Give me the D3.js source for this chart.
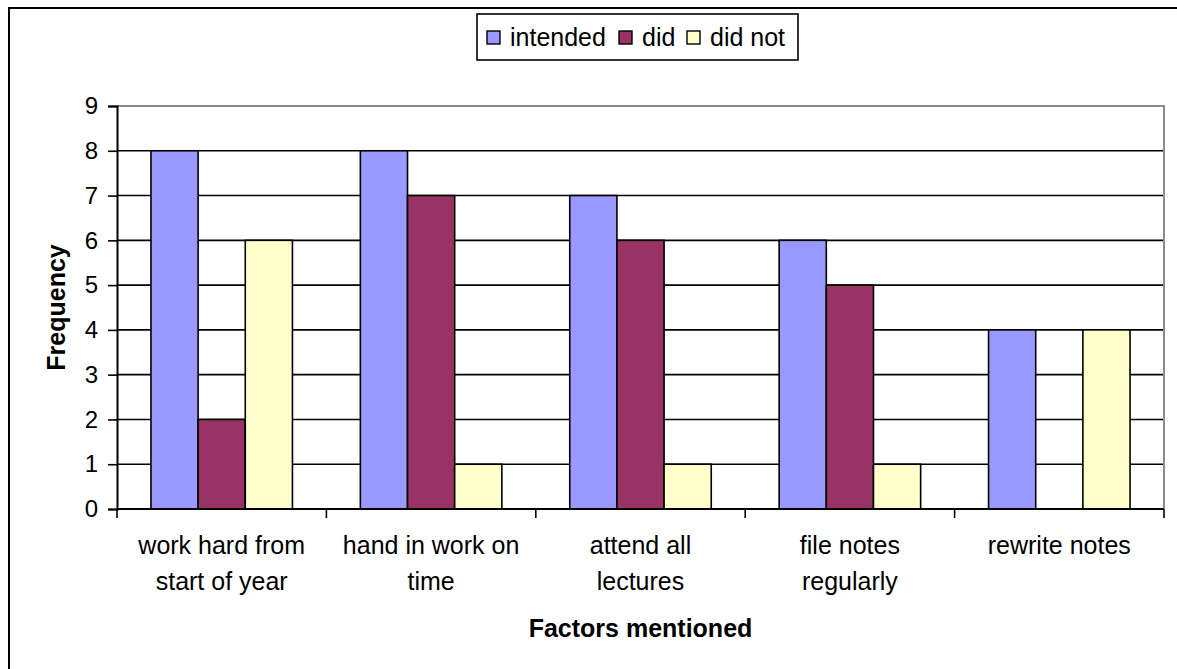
<!DOCTYPE html>
<html>
<head>
<meta charset="utf-8">
<script src="https://cdn.jsdelivr.net/npm/d3@7"></script>
<style>
  html, body { margin: 0; padding: 0; background: #fff; }
  svg { display: block; font-family: Arial, "Liberation Sans", sans-serif; }
</style>
</head>
<body>
<svg id="chart" width="1177" height="669"></svg>
<script>
// Factors students mentioned, with how many intended / did / did not follow through
const categories = [
  ["work hard from", "start of year"],
  ["hand in work on", "time"],
  ["attend all", "lectures"],
  ["file notes", "regularly"],
  ["rewrite notes"]
];
const seriesNames = ["intended", "did", "did not"];
const intended = [8, 8, 7, 6, 4];
const did      = [2, 7, 6, 5, 0];
const didNot   = [6, 1, 1, 1, 4];
const yTicks   = [0, 1, 2, 3, 4, 5, 6, 7, 8, 9];
const colors   = ["#9999FF", "#993366", "#FFFFCC"];

const seriesValues = [intended, did, didNot];
const catKeys = categories.map(c => c.join(" "));

const svg = d3.select("#chart");
const plot = { left: 117, right: 1164, top: 106, bottom: 509 };

// Outer chart frame (only top and left edges fall inside the view)
svg.append("rect")
  .attr("x", 9).attr("y", 8)
  .attr("width", 1200).attr("height", 700)
  .attr("fill", "none").attr("stroke", "#000").attr("stroke-width", 2);

const x0 = d3.scaleBand().domain(catKeys).range([plot.left, plot.right])
  .paddingInner(0).paddingOuter(0);
const x1 = d3.scaleBand().domain(seriesNames).range([0, x0.bandwidth()])
  .paddingInner(0).paddingOuter(0.72);
const y = d3.scaleLinear().domain([0, 9]).range([plot.bottom, plot.top]);

// Horizontal gridlines
svg.append("g").selectAll("line")
  .data(yTicks.filter(t => t > 0 && t < 9))
  .join("line")
  .attr("x1", plot.left).attr("x2", plot.right)
  .attr("y1", d => y(d)).attr("y2", d => y(d))
  .attr("stroke", "#000").attr("stroke-width", 1.6);

// Plot area border: top and right in grey
svg.append("path")
  .attr("d", `M${plot.left},${y(9)}H${plot.right}V${plot.bottom}`)
  .attr("fill", "none").attr("stroke", "#8c8c8c").attr("stroke-width", 2);

// Bars
const groups = svg.append("g").selectAll("g")
  .data(catKeys)
  .join("g")
  .attr("transform", d => `translate(${x0(d)},0)`);

groups.selectAll("rect")
  .data((d, i) => seriesNames.map((s, j) => ({ s, v: seriesValues[j][i], c: colors[j] })))
  .join("rect")
  .filter(d => d.v > 0)
  .attr("x", d => x1(d.s))
  .attr("width", x1.bandwidth())
  .attr("y", d => y(d.v))
  .attr("height", d => y(0) - y(d.v))
  .attr("fill", d => d.c)
  .attr("stroke", "#000").attr("stroke-width", 1.6);

// Y axis
const yAxis = svg.append("g")
  .attr("transform", `translate(${plot.left},0)`)
  .call(d3.axisLeft(y).tickValues(yTicks).tickSize(9).tickPadding(10).tickFormat(d3.format("d")));
yAxis.select(".domain").attr("stroke", "#000").attr("stroke-width", 2);
yAxis.selectAll(".tick line").attr("stroke", "#000").attr("stroke-width", 1.6);
yAxis.selectAll(".tick text")
  .attr("font-size", 24).attr("fill", "#000")
  .attr("font-family", "Arial, 'Liberation Sans', sans-serif");

// X axis: line along zero with ticks at category boundaries
const boundaries = catKeys.map(k => x0(k)).concat([plot.right]);
svg.append("line")
  .attr("x1", plot.left).attr("x2", plot.right)
  .attr("y1", y(0)).attr("y2", y(0))
  .attr("stroke", "#000").attr("stroke-width", 2);
svg.append("g").selectAll("line")
  .data(boundaries)
  .join("line")
  .attr("x1", d => d).attr("x2", d => d)
  .attr("y1", y(0)).attr("y2", y(0) + 9)
  .attr("stroke", "#000").attr("stroke-width", 1.6);

// Category labels
svg.append("g").selectAll("text")
  .data(categories)
  .join("text")
  .attr("x", (d, i) => x0(catKeys[i]) + x0.bandwidth() / 2)
  .attr("y", 554)
  .attr("text-anchor", "middle")
  .attr("font-size", 25)
  .attr("fill", "#000")
  .each(function(d) {
    const t = d3.select(this);
    d.forEach((line, k) => {
      t.append("tspan")
        .attr("x", t.attr("x"))
        .attr("dy", k === 0 ? 0 : 36)
        .text(line);
    });
  });

// Axis titles
svg.append("text")
  .attr("x", (plot.left + plot.right) / 2).attr("y", 637)
  .attr("text-anchor", "middle")
  .attr("font-size", 25).attr("font-weight", "bold")
  .text("Factors mentioned");

svg.append("text")
  .attr("transform", `translate(65,${(plot.top + plot.bottom) / 2}) rotate(-90)`)
  .attr("text-anchor", "middle")
  .attr("font-size", 25).attr("font-weight", "bold")
  .text("Frequency");

// Legend
const legend = svg.append("g");
legend.append("rect")
  .attr("x", 477).attr("y", 14).attr("width", 321).attr("height", 46)
  .attr("fill", "#fff").attr("stroke", "#000").attr("stroke-width", 1.6);
const legendX = [487, 619, 687];
seriesNames.forEach((name, i) => {
  legend.append("rect")
    .attr("x", legendX[i]).attr("y", 31).attr("width", 13).attr("height", 13)
    .attr("fill", colors[i]).attr("stroke", "#000").attr("stroke-width", 1.4);
  legend.append("text")
    .attr("x", legendX[i] + 23).attr("y", 46)
    .attr("font-size", 25).attr("fill", "#000")
    .text(name);
});
</script>
</body>
</html>
